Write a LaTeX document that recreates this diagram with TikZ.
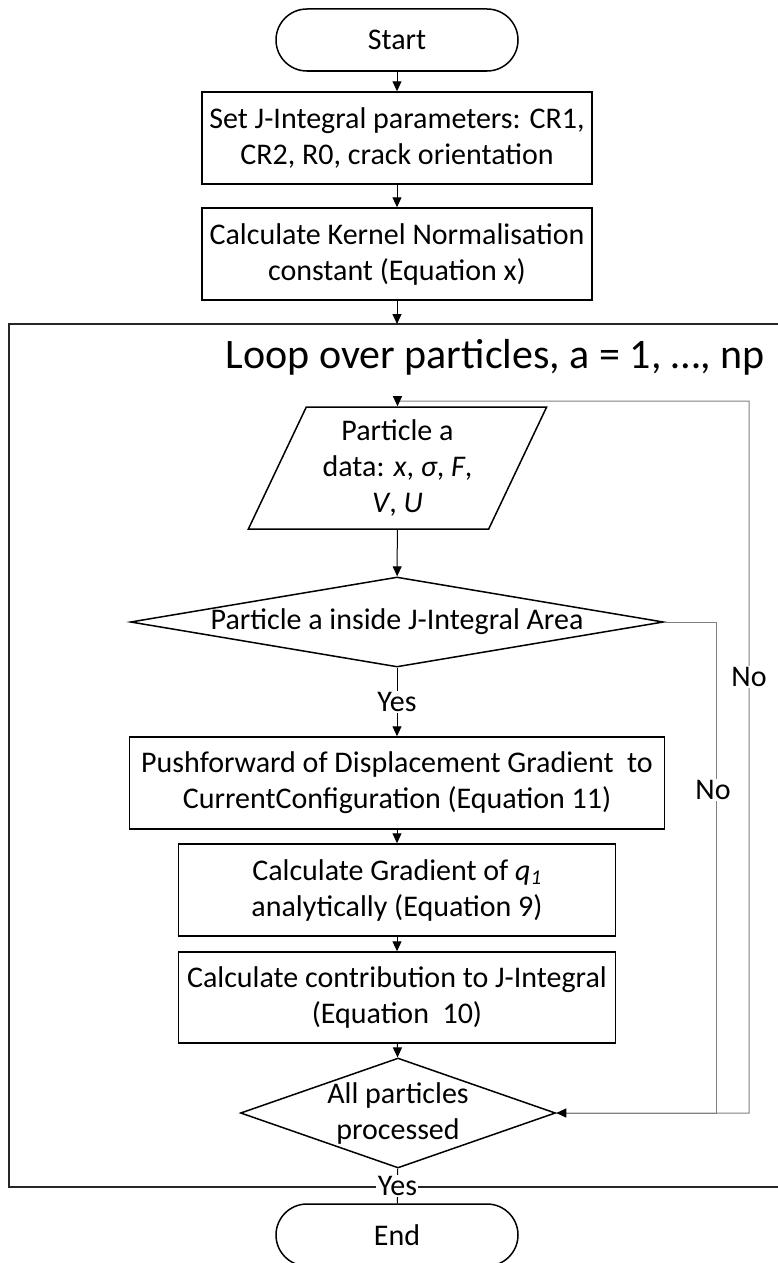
\documentclass[tikz,border=0pt]{standalone}
\usepackage{fontspec}
\setmainfont{Carlito}
\usetikzlibrary{shapes.geometric,arrows.meta}
\begin{document}
\begin{tikzpicture}[x=1pt,y=-1pt,
  every node/.style={font=\fontsize{30}{36}\selectfont, inner sep=0pt, align=center},
  box/.style={draw, line width=1.5pt, minimum height=92pt},
  term/.style={draw, line width=1.5pt, rounded corners=31pt, minimum width=242pt, minimum height=62pt},
  dia/.style={draw, diamond, line width=1.5pt},
  arr/.style={line width=1pt, -{Triangle[length=10pt,width=9pt,color=black]}},
  gl/.style={draw=gray, line width=1pt},
  lab/.style={fill=white, inner sep=1.5pt}
]
\useasboundingbox (0,0) rectangle (778,1263);

% frame of the loop
\draw[line width=2pt, draw=black!85] (778,324) -- (9,324) -- (9,1187) -- (778,1187);
\node[font=\fontsize{42}{50}\selectfont, anchor=base] (title) at (495,368) {Loop over particles, a = 1, …, np};

\node[term] (start) at (397,40) {Start};
\node[box, minimum width=390pt] (b1) at (397,138) {Set J-Integral parameters: CR1,\\CR2, R0, crack orientation};
\node[box, minimum width=390pt] (b2) at (397,254) {Calculate Kernel Normalisation\\constant (Equation x)};
\coordinate (ftop) at (397,324);

\node[draw, trapezium, trapezium left angle=63.8, trapezium right angle=116.2,
      trapezium stretches=true, minimum width=299pt, minimum height=122pt,
      line width=1.5pt] (para) at (397.5,468)
  {Particle a\\data: \textit{x}, \textit{σ}, \textit{F},\\\textit{V}, \textit{U}};

\node[dia, minimum width=533pt, minimum height=90pt,
      label={center:Particle a inside J-Integral Area}] (d1) at (397,622) {};

\node[box, minimum width=535pt] (b3) at (397,783) {Pushforward of Displacement Gradient\ \ to\\CurrentConfiguration (Equation 11)};
\node[box, minimum width=437pt] (b4) at (397,890) {Calculate Gradient of \textit{q}\textsubscript{\textit{1}}\\analytically (Equation 9)};
\node[box, minimum width=437pt, minimum height=91pt] (b5) at (397,997.5) {Calculate contribution to J-Integral\\(Equation\ \ 10)};

\node[dia, minimum width=315pt, minimum height=110pt,
      label={[align=center]center:{All particles\\processed}}] (d2) at (398,1113) {};

\node[term] (end) at (397,1235) {End};

% loop-back connectors
\coordinate (r1) at (716,622);
\coordinate (r1b) at (716,1113);
\coordinate (r2) at (749,1113);
\coordinate (r2t) at (749,401);
\coordinate (pt) at (397.5,401);
\draw[gl, arr] (d2.east) -- (r2) -- (r2t) -- (pt) -- (para.north);
\draw[gl, arr] (d1.east) -- (r1) -- (r1b) -- (d2.east);
\node[lab] (no1) at (749,677) {No};
\node[lab] (no2) at (713,790) {No};

% main connectors
\draw[arr] (start) -- (b1);
\draw[arr] (b1) -- (b2);
\draw[arr] (b2) -- (ftop);
\draw[arr] (para) -- (d1);
\draw[arr] (d1) -- node[lab] (yes1) {Yes} (b3);
\draw[arr] (b3) -- (b4);
\draw[arr] (b4) -- (b5);
\draw[arr] (b5) -- (d2);
\draw[line width=1pt] (d2) -- node[lab, pos=0.5] (yes2) {Yes} (end);
\end{tikzpicture}
\end{document}
